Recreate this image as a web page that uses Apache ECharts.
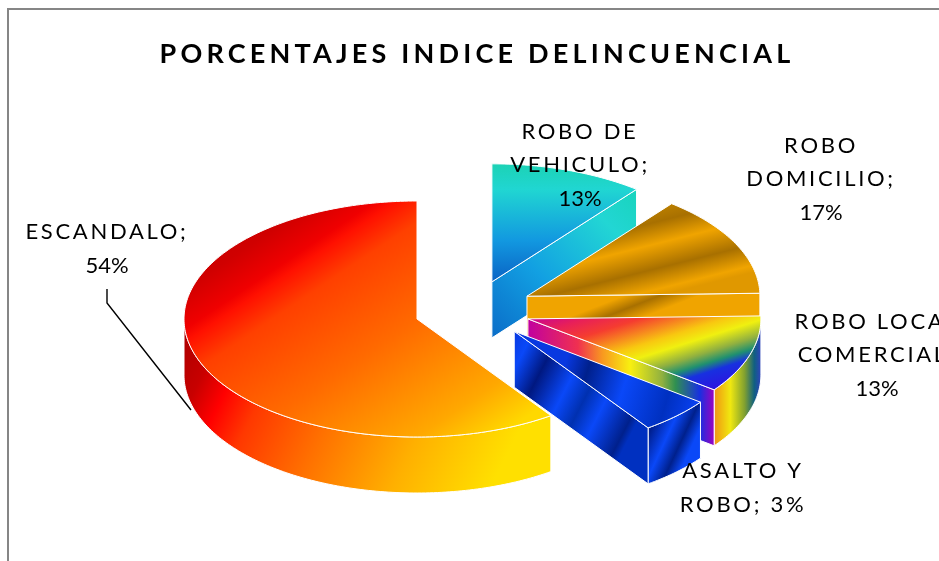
<!DOCTYPE html>
<html>
<head>
<meta charset="utf-8">
<style>
  html, body { margin: 0; padding: 0; background: #fff; }
  #chart { width: 939px; height: 561px; }
</style>
<script src="https://cdn.jsdelivr.net/npm/echarts@6/dist/echarts.min.js"></script>
</head>
<body>
<div id="chart"></div>
<script>
const titleText = 'PORCENTAJES INDICE DELINCUENCIAL'
const categories = ['ROBO DE\nVEHICULO', 'ROBO\nDOMICILIO', 'ROBO LOCAL\nCOMERCIAL', 'ASALTO Y\nROBO', 'ESCANDALO']
const percents = [13, 17, 13, 3, 54]

// the reference letters sit apart, echarts has no letter spacing option
const rawFillText = CanvasRenderingContext2D.prototype.fillText
CanvasRenderingContext2D.prototype.fillText = function (t, x, y, m) {
  this.letterSpacing = /^\d/.test(t) ? '0px' : this.font.startsWith('bold') ? '4.2px' : '2.7px'
  rawFillText.call(this, t, x, y, m)
}

const cx = 417
const cy = 319
const rx = 233
const ry = 118
const depth = 56
const explodes = [0.45, 0.51, 0.476, 0.43, 0]
const sweepScale = 0.82 // the 3d view squeezes the right hand side
const minSweep = 18

// start and end angle of each slice, clockwise from 12 o'clock
const angles = []
let acc = 0
percents.forEach((p, i) => {
  const last = i === percents.length - 1
  const sweep = last ? 360 - acc : Math.max(p * 3.6 * sweepScale, minSweep)
  angles.push([acc, acc + sweep])
  acc += sweep
})

const labelPos = [[580, 165], [821, 179], [877, 355], [743, 488], [107, 249]]

const grad = (x, y, x2, y2, stops) => new echarts.graphic.LinearGradient(
  x, y, x2, y2, stops.map((s) => ({ offset: s[0], color: s[1] }))
)

const fills = [
  {
    top: grad(0, 0, 0, 1, [[0, '#1cd2b4'], [0.22, '#20d6d2'], [0.65, '#1298e0'], [1, '#0a62c4']]),
    end: grad(1, 0, 0, 1, [[0, '#18d4bc'], [0.22, '#22d6d4'], [0.62, '#12a0e2'], [1, '#0a6cc8']]),
    wall: '#0a6cc8'
  },
  {
    top: grad(0.45, 0, 0.55, 1, [[0, '#c98a00'], [0.25, '#a87000'], [0.47, '#f0a400'], [0.72, '#a87000'], [0.93, '#f0a400'], [1, '#e09800']]),
    end: grad(0.45, 0, 0.55, 1, [[0, '#f0a400'], [0.2, '#a87000'], [0.42, '#f0a400'], [1, '#f0a400']]),
    wall: '#f0a400'
  },
  {
    top: grad(0, 0, 0.19, 1.89, [[0, '#c000a0'], [0.14, '#e82058'], [0.25, '#f53c30'], [0.42, '#f8c810'], [0.5, '#f0f010'], [0.6, '#90b040'], [0.67, '#1f9070'], [0.73, '#1830e0'], [0.87, '#3010e0'], [1, '#8000c0']]),
    end: grad(0, 0, 1, 0, [[0, '#c000a0'], [0.27, '#f03050'], [0.4, '#f89820'], [0.55, '#f8f010'], [0.72, '#90b040'], [0.79, '#309050'], [0.92, '#1830e0'], [1, '#a000c0']]),
    wall: grad(0, 0, 1, 0, [[0, '#f09020'], [0.12, '#f0b010'], [0.35, '#f0e810'], [0.65, '#80a030'], [0.85, '#106080'], [1, '#3040c0']])
  },
  {
    top: grad(0, 0, 1, 0.6, [[0, '#0838e0'], [0.3, '#0838e0'], [0.42, '#00208c'], [0.62, '#0a48f8'], [0.85, '#0030c0'], [1, '#0840f0']]),
    end: grad(0, 0, 1, 0.45, [[0, '#0838e0'], [0.12, '#0a48f8'], [0.28, '#001880'], [0.48, '#0a48f8'], [0.62, '#0030b0'], [0.75, '#0a48f8'], [0.95, '#00208c'], [1, '#0030c0']]),
    wall: grad(0, 0, 1, 0.3, [[0, '#0030c0'], [0.25, '#001f90'], [0.55, '#0a48f8'], [0.8, '#00208c'], [1, '#0a48f8']])
  },
  {
    top: grad(0, 0, 0.56, 1.3, [[0, '#b80000'], [0.2, '#d00000'], [0.29, '#f00000'], [0.32, '#ff1000'], [0.4, '#ff4000'], [0.62, '#ff6a00'], [0.88, '#ffa800'], [1, '#ffd800']]),
    end: '#ff0000',
    wall: grad(0, 0, 0.85, 0.9, [[0, '#a80000'], [0.12, '#c80000'], [0.2, '#ff0000'], [0.3, '#ff3800'], [0.5, '#ff7000'], [0.75, '#ffb000'], [1, '#ffe000']])
  }
]

function rad(a) {
  return (a * Math.PI) / 180
}

function renderSlice(params, api) {
  const i = params.dataIndex
  const [a0, a1] = angles[i]
  const fill = fills[i]
  // exploded slices drift right in this view, not along their own bisector
  const dir = rad(36 + 0.5 * ((a0 + a1) / 2))
  const k = explodes[i]
  const ox = cx + rx * k * Math.sin(dir)
  const oy = cy - ry * k * Math.cos(dir)
  const pt = (a, dy) => [ox + rx * Math.sin(rad(a)), oy - ry * Math.cos(rad(a)) + (dy || 0)]

  const arc = (from, to, dy) => {
    const pts = []
    for (let a = from; a < to; a += 1) pts.push(pt(a, dy))
    pts.push(pt(to, dy))
    return pts
  }

  const z = k === 0 ? 1 : 2 + i * 3
  const line = { stroke: '#fff', lineWidth: 1, lineJoin: 'round' }
  const children = []

  // outer wall only shows on the front half
  const w0 = Math.max(a0, 90)
  const w1 = Math.min(a1, 270)
  if (w1 > w0) {
    children.push({
      type: 'polygon',
      z2: z,
      shape: { points: arc(w0, w1, 0).concat(arc(w0, w1, depth).reverse()) },
      style: { fill: fill.wall, ...line }
    })
  }
  // cut face at the end of the slice
  if (Math.sin(rad(a1)) > 0.01) {
    children.push({
      type: 'polygon',
      z2: z + 1,
      shape: { points: [[ox, oy], pt(a1), pt(a1, depth), [ox, oy + depth]] },
      style: { fill: fill.end, ...line }
    })
  }
  children.push({
    type: 'polygon',
    z2: z + 2,
    shape: { points: [[ox, oy]].concat(arc(a0, a1, 0)) },
    style: { fill: fill.top, ...line }
  })

  const sep = api.value(0) < 5 ? ' ' : '\n'
  children.push({
    type: 'text',
    z2: 100,
    x: labelPos[i][0],
    y: labelPos[i][1],
    style: {
      text: categories[i] + ';' + sep + api.value(0) + '%',
      fill: '#000',
      font: '22px Lato',
      lineHeight: 33.5,
      align: 'center',
      verticalAlign: 'middle'
    }
  })
  return { type: 'group', children }
}

const chart = echarts.init(document.getElementById('chart'))
chart.setOption({
  animation: false,
  backgroundColor: '#fff',
  title: {
    text: titleText,
    left: 472,
    top: 36,
    textAlign: 'center',
    textStyle: { fontFamily: 'Lato', fontWeight: 'bold', fontSize: 27, color: '#000' }
  },
  graphic: [
    {
      type: 'rect',
      shape: { x: 8, y: 9, width: 1100, height: 800 },
      style: { fill: 'none', stroke: '#868686', lineWidth: 2 }
    },
    {
      type: 'polyline',
      z: 10,
      shape: { points: [[107, 289], [107, 303], [191, 410]] },
      style: { fill: 'none', stroke: '#000', lineWidth: 1.4 }
    }
  ],
  series: [
    {
      type: 'custom',
      coordinateSystem: 'none',
      renderItem: renderSlice,
      data: percents.map((p) => [p])
    }
  ]
})
</script>
</body>
</html>
